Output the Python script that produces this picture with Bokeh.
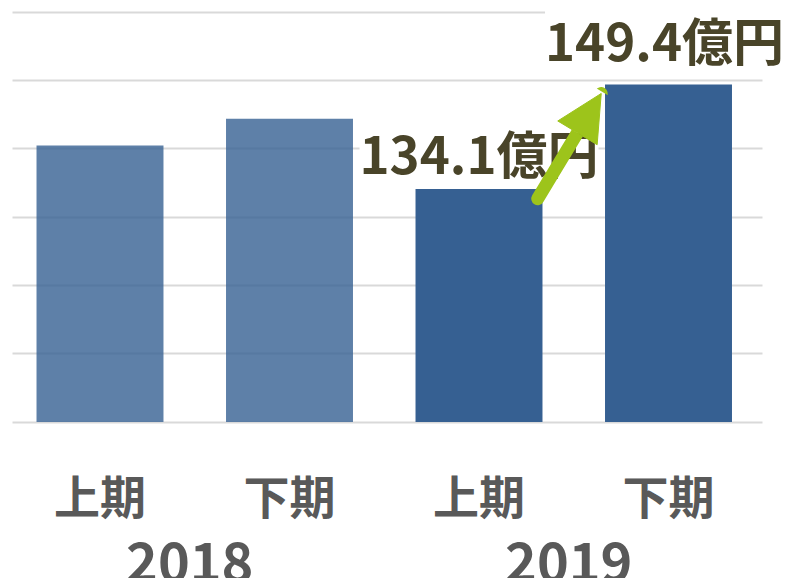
from bokeh.plotting import figure
from bokeh.models import (ColumnDataSource, Range1d, FixedTicker, Grid,
                          Label, Arrow, NormalHead)
from bokeh.core.properties import value
from bokeh.embed import file_html
from bokeh.resources import INLINE

# ---- data ----
periods = ["上期", "下期", "上期", "下期"]
period_years = ["2018", "2018", "2019", "2019"]
years = ["2018", "2019"]
sales = [140.5, 144.4, 134.1, 149.4]
bar_alpha = [0.8, 0.8, 1.0, 1.0]
grid_values = [100, 110, 120, 130, 140, 150, 160]
labeled = [2, 3]
unit = "億円"

FONT = "Noto Sans CJK JP"
BAR = "#366092"
GREEN = "#9DC41B"
LABEL_C = "#494429"
AXIS_C = "#595959"

x = list(range(len(sales)))
base = grid_values[0]
src = ColumnDataSource(dict(x=x, top=sales, alpha=bar_alpha))

W, H = 782, 578
PX_X, PX_Y = 189.5, 6.83          # pixels per data unit
X0_PX, BASE_PX = 99.5, 421.5      # where x=0 and y=base sit on the canvas
x_start = -X0_PX / PX_X
y_start = base - (H - BASE_PX) / PX_Y

p = figure(width=W, height=H, output_backend="svg", toolbar_location=None,
           x_range=Range1d(x_start, x_start + W / PX_X),
           y_range=Range1d(y_start, y_start + H / PX_Y),
           x_axis_location=None, y_axis_location=None,
           min_border=0)
p.outline_line_color = None
p.background_fill_color = "white"
p.border_fill_color = "white"
for g in p.grid:
    g.visible = False

p.add_layout(Grid(dimension=1, ticker=FixedTicker(ticks=grid_values),
                  cross_bounds=(x[0] - 0.462, x[-1] + 0.496),
                  grid_line_color="#D9D9D9", grid_line_width=2))

# value labels: white box sits under the bars (underlay) so it only masks gridlines
offsets = {2: (0, 39), 3: (-4, 48)}
for i in labeled:
    xo, yo = offsets[i]
    p.add_layout(Label(x=x[i], y=sales[i], x_offset=xo, y_offset=yo,
                       text=f"{sales[i]}{unit}", text_align="center",
                       text_baseline="alphabetic", text_font=FONT,
                       text_font_style="bold", text_font_size="51px",
                       text_color=LABEL_C, background_fill_color="white",
                       padding=(0, 0, 4, 0), level="underlay"))

p.vbar(x="x", top="top", bottom=base, width=0.67, source=src,
       fill_color=BAR, fill_alpha="alpha", line_color=None)

# category labels (period) under each bar
p.text(x=x, y=[base] * len(x), text=periods, y_offset=72,
       text_align="center", text_baseline="alphabetic",
       text_font=value(FONT), text_font_style="bold",
       text_font_size=value("46px"), text_color=AXIS_C)

# year group labels, centred under each year's pair of bars
year_x = []
for yr in years:
    idx = [i for i, y in enumerate(period_years) if y == yr]
    year_x.append(sum(idx) / len(idx))
p.text(x=year_x, y=[base] * len(years), text=years, x_offset=-5, y_offset=140,
       text_align="center", text_baseline="alphabetic",
       text_font=value(FONT), text_font_style="bold",
       text_font_size=value("54px"), text_color=AXIS_C)

p.add_layout(Arrow(end=NormalHead(size=46, fill_color=GREEN, line_color=GREEN),
                   x_start=x[2] + 0.31, y_start=sales[2] - 1.4,
                   x_end=x[3] - 0.355, y_end=sales[3] - 1.3,
                   line_color=GREEN, line_width=13, line_cap="round"))

open("out.html", "w").write(file_html(p, INLINE))
